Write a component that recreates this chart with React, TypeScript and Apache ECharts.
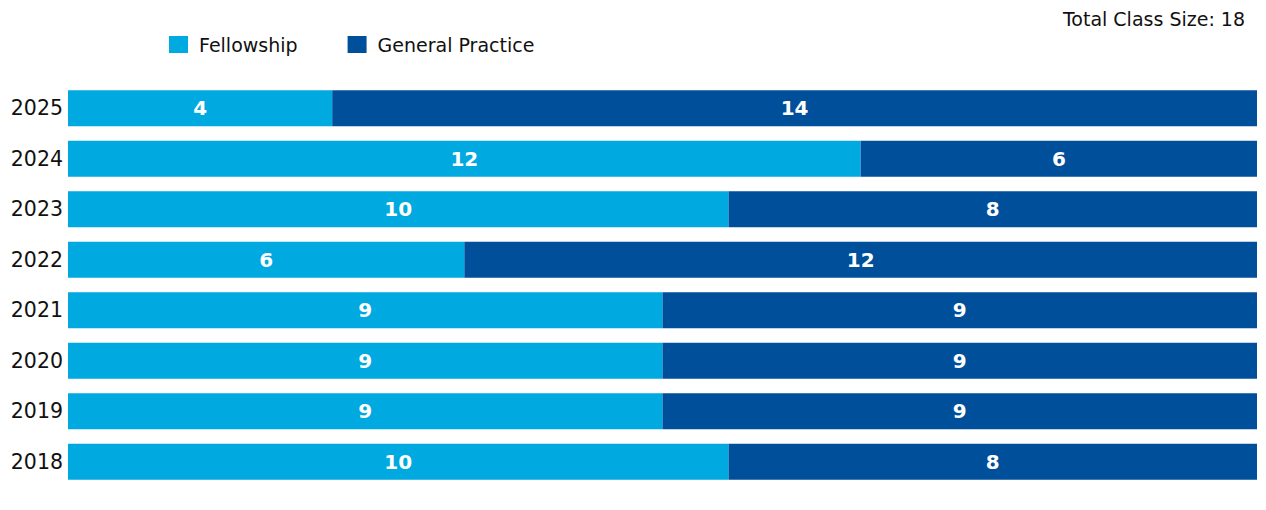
import React, { useEffect, useRef } from "react";
import * as echarts from "echarts";

const years = ["2018", "2019", "2020", "2021", "2022", "2023", "2024", "2025"];
const fellowship = [10, 9, 9, 9, 6, 10, 12, 4];
const generalPractice = [8, 9, 9, 9, 12, 8, 6, 14];
const totalClassSize = 18;

const FONT = "DejaVu Sans";

export default function App() {
  const ref = useRef<HTMLDivElement>(null);
  useEffect(() => {
    if (!ref.current) return;
    const chart = echarts.init(ref.current, null, { renderer: "svg" });
    const label = {
      show: true,
      position: "inside",
      color: "#ffffff",
      fontFamily: FONT,
      fontWeight: "bold",
      fontSize: 20,
    };
    chart.setOption({
      animation: false,
      textStyle: { fontFamily: FONT },
      title: {
        text: `Total Class Size: ${totalClassSize}`,
        right: 16,
        top: 4,
        textStyle: { fontFamily: FONT, fontSize: 19, fontWeight: "normal", color: "#111111" },
      },
      legend: {
        left: 164,
        top: 30,
        itemWidth: 19,
        itemHeight: 17,
        itemGap: 50,
        icon: "rect",
        textStyle: { fontFamily: FONT, fontSize: 19, color: "#111111", padding: [0, 0, 0, 6] },
        data: ["Fellowship", "General Practice"],
      },
      grid: { left: 68, right: 9, top: 83, height: 404, containLabel: false },
      xAxis: {
        type: "value",
        min: 0,
        max: totalClassSize,
        show: false,
      },
      yAxis: {
        type: "category",
        data: years,
        axisLine: { show: false },
        axisTick: { show: false },
        axisLabel: { fontFamily: FONT, fontSize: 20.5, color: "#111111", margin: 5 },
      },
      series: [
        {
          name: "Fellowship",
          type: "bar",
          stack: "total",
          data: fellowship,
          barWidth: 36,
          itemStyle: { color: "#00A9E0" },
          label,
        },
        {
          name: "General Practice",
          type: "bar",
          stack: "total",
          data: generalPractice,
          barWidth: 36,
          itemStyle: { color: "#004F9A" },
          label,
        },
      ],
    });
    return () => chart.dispose();
  }, []);
  return (
    <div
      ref={ref}
      style={{ position: "fixed", left: 0, top: 0, width: 1266, height: 510, background: "#ffffff" }}
    />
  );
}
